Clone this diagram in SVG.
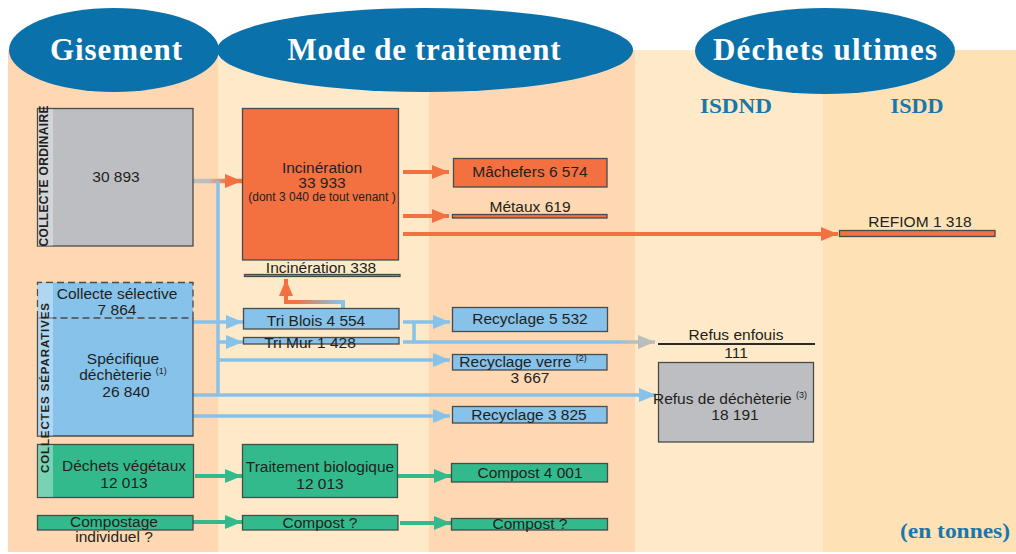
<svg xmlns="http://www.w3.org/2000/svg" width="1016" height="554" viewBox="0 0 1016 554">
<style>
.t{font-family:"Liberation Sans",Arial,sans-serif;font-size:15.5px;fill:#231f20;text-anchor:middle}
.s{font-size:12px}
.sup{font-size:9px}
.v{font-family:"Liberation Sans",Arial,sans-serif;font-weight:bold;fill:#231f20;text-anchor:middle}
.h{font-family:"Liberation Serif","Times New Roman",serif;font-weight:bold;fill:#fff;text-anchor:middle;font-size:31px}
.h2{font-family:"Liberation Serif","Times New Roman",serif;font-weight:bold;fill:#1777ae;text-anchor:middle;font-size:20px}
.bx{stroke:#4a4a4a;stroke-width:1.3}
.gr{fill:#bdbec2}.or{fill:#f37140}.bl{fill:#86c2ea}.gn{fill:#33ba8c}
.strip{fill:#fff;opacity:.35}
.cb{fill:none;stroke:#86c2ea;stroke-width:3.5}
.co{fill:none;stroke:#f37140;stroke-width:4}
.cg{fill:none;stroke:#33ba8c;stroke-width:4}
.ell{fill:#0b71aa}
</style>
<defs>
<marker id="mo" markerUnits="userSpaceOnUse" markerWidth="17" markerHeight="14" refX="17" refY="7" orient="auto"><path d="M0,0L17,7L0,14z" fill="#f37140"/></marker>
<marker id="mb" markerUnits="userSpaceOnUse" markerWidth="17" markerHeight="14" refX="17" refY="7" orient="auto"><path d="M0,0L17,7L0,14z" fill="#86c2ea"/></marker>
<marker id="mg" markerUnits="userSpaceOnUse" markerWidth="17" markerHeight="14" refX="17" refY="7" orient="auto"><path d="M0,0L17,7L0,14z" fill="#33ba8c"/></marker>
<marker id="my" markerUnits="userSpaceOnUse" markerWidth="17" markerHeight="14" refX="17" refY="7" orient="auto"><path d="M0,0L17,7L0,14z" fill="#bcbcbc"/></marker>
<linearGradient id="gCO" gradientUnits="userSpaceOnUse" x1="208" y1="0" x2="228" y2="0"><stop offset="0" stop-color="#bdbec2"/><stop offset="1" stop-color="#f37140"/></linearGradient>
<linearGradient id="gTM" gradientUnits="userSpaceOnUse" x1="615" y1="0" x2="632" y2="0"><stop offset="0" stop-color="#86c2ea"/><stop offset="1" stop-color="#bcbcbc"/></linearGradient>
<linearGradient id="gTB" gradientUnits="userSpaceOnUse" x1="340" y1="0" x2="295" y2="0"><stop offset="0" stop-color="#86c2ea"/><stop offset="1" stop-color="#f37140"/></linearGradient>
</defs>
<rect width="1016" height="554" fill="#fff"/>
<g id="background">
<rect x="8" y="50" width="210" height="502" fill="#fdd8b2"/>
<rect x="218" y="50" width="211" height="502" fill="#feeac8"/>
<rect x="429" y="50" width="206" height="502" fill="#fdd8b2"/>
<rect x="635" y="50" width="188" height="502" fill="#feeac8"/>
<rect x="823" y="50" width="193" height="502" fill="#fee1b5"/>
</g>
<g id="headers">
<ellipse class="ell" cx="114" cy="50" rx="105" ry="42"/>
<ellipse class="ell" cx="425" cy="50" rx="208" ry="42"/>
<ellipse class="ell" cx="825" cy="51" rx="130" ry="43"/>
<text class="h" x="116" y="60" textLength="132">Gisement</text>
<text class="h" x="424" y="60" textLength="273">Mode de traitement</text>
<text class="h" x="825" y="60" textLength="224">Déchets ultimes</text>
<text class="h2" x="736" y="113" textLength="72" lengthAdjust="spacingAndGlyphs">ISDND</text>
<text class="h2" x="917" y="113" textLength="53" lengthAdjust="spacingAndGlyphs">ISDD</text>
<text class="h2" x="955" y="538" textLength="110" lengthAdjust="spacingAndGlyphs">(en tonnes)</text>
</g>
<g id="connectors">
<path d="M193,181H242" fill="none" stroke="url(#gCO)" stroke-width="4.5" marker-end="url(#mo)"/>
<path class="co" d="M403,172H449" marker-end="url(#mo)"/>
<path class="co" d="M403,216H449" marker-end="url(#mo)"/>
<path class="co" d="M403,234H838" marker-end="url(#mo)"/>
<path class="cb" d="M218,181V395"/>
<path class="cb" d="M193,322H243" marker-end="url(#mb)"/>
<path class="cb" d="M218,342H243" marker-end="url(#mb)"/>
<path class="cb" d="M218,360H450" marker-end="url(#mb)"/>
<path class="cb" d="M193,395H656" marker-end="url(#mb)"/>
<path class="cb" d="M193,416H450" marker-end="url(#mb)"/>
<path class="cb" d="M403,322H450" marker-end="url(#mb)"/>
<path class="cb" d="M414,322V342"/>
<path d="M403,342H655" fill="none" stroke="url(#gTM)" stroke-width="3.5" marker-end="url(#my)"/>
<path d="M343,308V302H286V279" fill="none" stroke="url(#gTB)" stroke-width="4" marker-end="url(#mo)"/>
<path class="cg" d="M195,476H242" marker-end="url(#mg)"/>
<path class="cg" d="M398,476H451" marker-end="url(#mg)"/>
<path class="cg" d="M193,522H242" marker-end="url(#mg)"/>
<path class="cg" d="M400,523H451" marker-end="url(#mg)"/>
</g>
<g id="collecte-ordinaire">
<rect class="gr bx" x="37.5" y="108.5" width="155.5" height="137.5"/>
<rect class="strip" x="38" y="109" width="15" height="137"/>
<text class="v" font-size="12" transform="translate(48,176) rotate(-90)" textLength="141">COLLECTE ORDINAIRE</text>
<text class="t" x="116" y="182">30 893</text>
</g>
<g id="collectes-separatives">
<rect class="bl" x="37.5" y="282.5" width="155.5" height="153.5"/>
<path d="M37.5,318V436H193V318" fill="none" stroke="#4a4a4a" stroke-width="1.3"/>
<path d="M37.5,318V282.5H193V318H37.5" fill="none" stroke="#4a4a4a" stroke-width="1.3" stroke-dasharray="7,4"/>
<rect class="strip" x="38" y="283" width="15" height="153"/>
<text class="t" x="117" y="299">Collecte sélective</text>
<text class="t" x="117" y="315">7 864</text>
<text class="t" x="123" y="364">Spécifique</text>
<text class="t" x="123" y="380">déchèterie <tspan class="sup" dy="-6">(1)</tspan></text>
<text class="t" x="126" y="397">26 840</text>
</g>
<g id="dechets-vegetaux">
<rect class="gn bx" x="37.5" y="444.5" width="156" height="53"/>
<rect class="strip" x="38" y="445" width="15" height="52"/>
<text class="t" x="124" y="471">Déchets végétaux</text>
<text class="t" x="124" y="488">12 013</text>
</g>
<text id="label-collectes-separatives" class="v" font-size="11.5" transform="translate(49,388) rotate(-90)" textLength="170">COLLECTES SÉPARATIVES</text>
<g id="compostage-individuel">
<rect class="gn bx" x="37.5" y="515.5" width="155.5" height="14.5"/>
<text class="t" x="114" y="527">Compostage</text>
<text class="t" x="114" y="542">individuel ?</text>
</g>
<g id="incineration">
<rect class="or bx" x="242.5" y="108.5" width="156" height="151.5"/>
<text class="t" x="322" y="173">Incinération</text>
<text class="t" x="322" y="188">33 933</text>
<text class="t s" x="322" y="201">(dont 3 040 de tout venant )</text>
</g>
<g id="incineration-338">
<rect class="or bx" x="244.5" y="274.5" width="155.5" height="2"/>
<text class="t" x="321" y="273">Incinération 338</text>
</g>
<g id="tri-blois">
<rect class="bl bx" x="243.5" y="308.5" width="155.5" height="20.5"/>
<text class="t" x="316" y="326">Tri Blois 4 554</text>
</g>
<g id="tri-mur">
<rect class="bl bx" x="243.5" y="337.5" width="155.5" height="6.5"/>
<text class="t" x="310" y="348">Tri Mur 1 428</text>
</g>
<g id="traitement-biologique">
<rect class="gn bx" x="242.5" y="444.5" width="155" height="53"/>
<text class="t" x="320" y="472">Traitement biologique</text>
<text class="t" x="320" y="489">12 013</text>
</g>
<g id="compost-mid">
<rect class="gn bx" x="242.5" y="515.5" width="155.5" height="14.5"/>
<text class="t" x="320" y="528">Compost ?</text>
</g>
<g id="machefers">
<rect class="or bx" x="453.5" y="158.5" width="153.5" height="28.5"/>
<text class="t" x="530" y="177">Mâchefers 6 574</text>
</g>
<g id="metaux">
<rect class="or bx" x="452.5" y="214.5" width="154.5" height="3.5"/>
<text class="t" x="530" y="212">Métaux 619</text>
</g>
<g id="recyclage-5532">
<rect class="bl bx" x="452.5" y="307.5" width="155" height="24"/>
<text class="t" x="530" y="324">Recyclage 5 532</text>
</g>
<g id="recyclage-verre">
<rect class="bl bx" x="452.5" y="354.5" width="154.5" height="15.5"/>
<text class="t" x="523" y="367">Recyclage verre <tspan class="sup" dy="-6">(2)</tspan></text>
<text class="t" x="530" y="383">3 667</text>
</g>
<g id="recyclage-3825">
<rect class="bl bx" x="452.5" y="406.5" width="154.5" height="16.5"/>
<text class="t" x="529" y="420">Recyclage 3 825</text>
</g>
<g id="compost-4001">
<rect class="gn bx" x="451.5" y="463.5" width="156" height="18.5"/>
<text class="t" x="530" y="478">Compost 4 001</text>
</g>
<g id="compost-right">
<rect class="gn bx" x="451.5" y="518.5" width="156" height="11.5"/>
<text class="t" x="530" y="529">Compost ?</text>
</g>
<g id="refus-enfouis">
<line x1="658" y1="344" x2="815" y2="344" stroke="#2a2a2a" stroke-width="2"/>
<text class="t" x="736" y="340">Refus enfouis</text>
<text class="t" x="736" y="358">111</text>
</g>
<g id="refus-decheterie">
<rect class="gr bx" x="658.5" y="362.5" width="155" height="79.5"/>
<text class="t" x="730" y="404">Refus de déchèterie <tspan class="sup" dy="-6">(3)</tspan></text>
<text class="t" x="735" y="420">18 191</text>
</g>
<g id="refiom">
<rect class="or bx" x="839.5" y="230.5" width="155.5" height="6"/>
<text class="t" x="920" y="227">REFIOM 1 318</text>
</g>
</svg>
